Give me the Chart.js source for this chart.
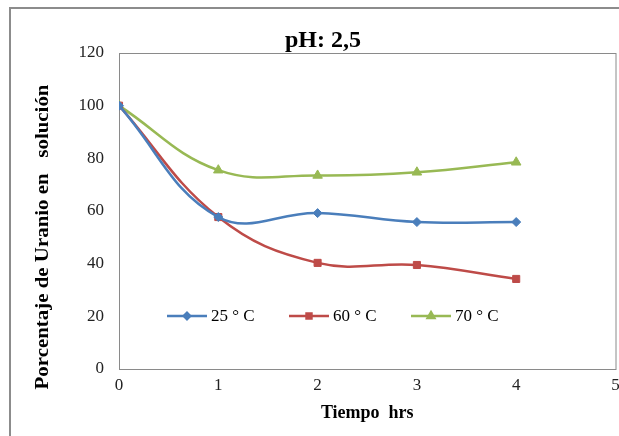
<!DOCTYPE html>
<html lang="es">
<head>
  <meta charset="UTF-8">
  <title>pH: 2,5</title>
  <script src="https://cdn.jsdelivr.net/npm/chart.js"></script>
  <style>
    body {
      margin: 0;
      background: #ffffff;
      overflow: hidden;
    }
    #wrap {
      position: relative;
      width: 619px;
      height: 436px;
      overflow: hidden;
    }
  </style>
</head>
<body>
  <div id="wrap">
    <!-- el original esta recortado a la derecha -->
    <canvas id="chart" width="622" height="436"></canvas>
  </div>

  <script>
    const horas = [0, 1, 2, 3, 4];
    const temp25 = [100, 57.7, 59.2, 55.8, 55.8];
    const temp60 = [100, 57.7, 40.3, 39.5, 34.2];
    const temp70 = [100, 75.5, 73.5, 74.7, 78.5];
    const etiquetas = ["25 ° C", "60 ° C", "70 ° C"];

    const serif = "'Liberation Serif', 'Times New Roman', serif";

    function puntos(vals) {
      return horas.map((h, i) => ({ x: h, y: vals[i] }));
    }

    // marco exterior + borde del area de grafico
    const marco = {
      id: "marco",
      beforeDraw(chart) {
        const ctx = chart.ctx;
        const a = chart.chartArea;
        ctx.save();
        ctx.strokeStyle = "#8c8c8c";
        ctx.lineWidth = 2;
        ctx.strokeRect(10, 8, 700, 500);
        ctx.strokeStyle = "#8a8a8a";
        ctx.lineWidth = 1;
        ctx.strokeRect(a.left + 0.5, a.top + 0.5, a.right - a.left, a.bottom - a.top);
        ctx.restore();
      }
    };

    // titulo del eje y y leyenda dentro del grafico
    const extras = {
      id: "extras",
      afterDraw(chart) {
        const ctx = chart.ctx;
        ctx.save();
        ctx.fillStyle = "#000";
        ctx.font = "bold 19px " + serif;
        ctx.textAlign = "center";
        ctx.textBaseline = "middle";
        ctx.translate(43, 237);
        ctx.rotate(-Math.PI / 2);
        ctx.scale(1.1, 1);
        ctx.fillText("Porcentaje de Uranio en   solución", 0, 0);
        ctx.restore();

        ctx.save();
        const y = 316;
        chart.data.datasets.forEach((ds, i) => {
          const x0 = 167 + i * 122;
          ctx.strokeStyle = ds.borderColor;
          ctx.lineWidth = 2.5;
          ctx.beginPath();
          ctx.moveTo(x0, y);
          ctx.lineTo(x0 + 40, y);
          ctx.stroke();
          ctx.fillStyle = ds.backgroundColor;
          Chart.helpers.drawPoint(ctx, {
            pointStyle: ds.pointStyle,
            radius: ds.pointRadius * 0.7,
            borderWidth: 1
          }, x0 + 20, y);
          ctx.fillStyle = "#000";
          ctx.font = "17px " + serif;
          ctx.textAlign = "left";
          ctx.textBaseline = "middle";
          ctx.fillText(ds.label, x0 + 44, y + 1);
        });
        ctx.restore();
      }
    };

    new Chart(document.getElementById("chart"), {
      type: "line",
      data: {
        datasets: [
          {
            label: etiquetas[0], data: puntos(temp25),
            borderColor: "#4a7ebb", backgroundColor: "#4a7ebb",
            pointStyle: "rectRot", pointRadius: 4.5
          },
          {
            label: etiquetas[1], data: puntos(temp60),
            borderColor: "#be4b48", backgroundColor: "#be4b48",
            pointStyle: "rect", pointRadius: 5
          },
          {
            label: etiquetas[2], data: puntos(temp70),
            borderColor: "#98b954", backgroundColor: "#98b954",
            pointStyle: "triangle", pointRadius: 5.5
          }
        ]
      },
      options: {
        responsive: false,
        animation: false,
        layout: { padding: { left: 25, right: 1, top: 0, bottom: 0 } },
        elements: {
          line: { borderWidth: 2.5, tension: 0.4 },
          point: { borderWidth: 1 }
        },
        plugins: {
          legend: { display: false },
          tooltip: { enabled: false },
          title: {
            display: true,
            text: "pH: 2,5",
            color: "#000",
            font: { family: serif, size: 24, weight: "bold", lineHeight: 1 },
            padding: { top: 29, bottom: 0 }
          }
        },
        scales: {
          x: {
            type: "linear",
            min: 0, max: 5,
            grid: { display: false, drawTicks: false },
            border: { display: false },
            ticks: { stepSize: 1, padding: 6, color: "#222", font: { family: serif, size: 17 } },
            title: {
              display: true,
              text: "Tiempo  hrs",
              color: "#000",
              font: { family: serif, size: 18, weight: "bold" },
              padding: { top: 0, bottom: 12 }
            },
            afterFit(s) {
              s.height = 67;
              s.paddingLeft = 0;
              s.paddingRight = 0;
            }
          },
          y: {
            min: 0, max: 120,
            grid: { display: false, drawTicks: false },
            border: { display: false },
            ticks: { stepSize: 20, padding: 15, color: "#222", font: { family: serif, size: 17 } },
            afterFit(s) { s.width = 94; }
          }
        }
      },
      plugins: [marco, extras]
    });
  </script>
</body>
</html>
